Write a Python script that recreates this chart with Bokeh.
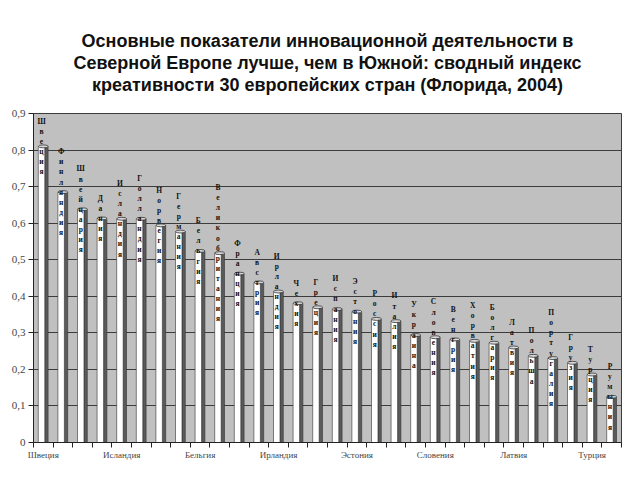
from bokeh.plotting import figure
from bokeh.models import FixedTicker, Title, ColumnDataSource
from bokeh.core.properties import value
from bokeh.embed import file_html
from bokeh.resources import INLINE

title_lines = [
    "Основные показатели инновационной деятельности в",
    "Северной Европе лучше, чем в Южной: сводный индекс",
    "креативности 30 европейских стран (Флорида, 2004)",
]

countries = [
    "Швеция", "Финляндия", "Швейцария", "Дания", "Исландия", "Голландия",
    "Норвегия", "Германия", "Бельгия", "Великобритания", "Франция", "Австрия",
    "Ирландия", "Чехия", "Греция", "Испания", "Эстония", "Россия", "Италия",
    "Украина", "Словения", "Венгрия", "Хорватия", "Болгария", "Латвия",
    "Польша", "Португалия", "Грузия", "Турция", "Румыния",
]
scores = [
    0.81, 0.685, 0.638, 0.613, 0.612, 0.612, 0.594, 0.577, 0.524, 0.518,
    0.462, 0.438, 0.413, 0.381, 0.370, 0.365, 0.358, 0.338, 0.332, 0.294,
    0.288, 0.282, 0.278, 0.273, 0.260, 0.237, 0.231, 0.218, 0.186, 0.125,
]
y_ticks = [0, 0.1, 0.2, 0.3, 0.4, 0.5, 0.6, 0.7, 0.8, 0.9]
y_tick_labels = ["0", "0,1", "0,2", "0,3", "0,4", "0,5", "0,6", "0,7", "0,8", "0,9"]
x_label_every = 4

N = len(countries)
xc = [i + 0.5 for i in range(N)]

src = ColumnDataSource(dict(
    x=xc,
    xw=[c - 0.09 for c in xc],
    xd=[c + 0.16 for c in xc],
    v=scores,
    lab=["\n".join(c) for c in countries],
))

p = figure(width=640, height=480, x_range=(0, N), y_range=(0, 0.9),
           output_backend="svg", toolbar_location=None, title=None,
           min_border_left=33, min_border_right=19, min_border_bottom=38,
           min_border_top=113)

# spacer between the title block and the plot frame
p.add_layout(Title(text=" ", text_font_size="15.5px", standoff=0), "above")
for line in reversed(title_lines):
    p.add_layout(Title(text=line, align="center", text_font="Liberation Sans",
                       text_font_size="18px", text_font_style="bold",
                       text_color="#111111", standoff=0), "above")

p.background_fill_color = "#c0c0c0"
p.border_fill_color = "white"
p.outline_line_color = "#3c3c3c"

p.xgrid.visible = False
p.ygrid.ticker = FixedTicker(ticks=y_ticks)
p.ygrid.grid_line_color = "#3c3c3c"
p.ygrid.grid_line_width = 1.2

p.vbar(x="xd", top="v", width=0.17, bottom=0, source=src,
       fill_color="#5a5a5a", line_color="#333333", line_width=0.6)
p.vbar(x="xw", top="v", width=0.33, bottom=0, source=src,
       fill_color="white", line_color="#333333", line_width=0.6)
p.ellipse(x="x", y="v", width=0.5, height=0.008, source=src,
          fill_color="#d8d8d8", line_color="#333333", line_width=0.8)

p.text(x="xw", y="v", text="lab", source=src, text_align="center",
       text_baseline="middle", text_font=value("Liberation Serif"),
       text_font_size="7.5px", text_font_style="bold", text_color="#111111",
       text_line_height=1.12)

p.yaxis.ticker = FixedTicker(ticks=y_ticks)
p.yaxis.major_label_overrides = dict(zip(y_ticks, y_tick_labels))
p.yaxis.major_tick_out = 5
p.yaxis.major_tick_in = 0
p.yaxis.minor_tick_line_color = None
p.yaxis.major_label_standoff = 3
p.yaxis.major_label_text_font = "Liberation Serif"
p.yaxis.major_label_text_font_size = "11px"
p.yaxis.axis_line_color = "#222222"
p.yaxis.major_tick_line_color = "#222222"

lab_idx = list(range(0, N, x_label_every))
p.xaxis.ticker = FixedTicker(ticks=[xc[i] for i in lab_idx], minor_ticks=list(range(N + 1)))
p.xaxis.major_label_overrides = {xc[i]: countries[i] for i in lab_idx}
p.xaxis.major_tick_out = 0
p.xaxis.major_tick_in = 0
p.xaxis.minor_tick_out = 5
p.xaxis.minor_tick_in = 0
p.xaxis.major_label_standoff = 2
p.xaxis.major_label_text_font = "Liberation Serif"
p.xaxis.major_label_text_font_size = "9px"
p.xaxis.axis_line_color = "#222222"
p.xaxis.minor_tick_line_color = "#222222"

open("out.html", "w").write(file_html(p, INLINE))
